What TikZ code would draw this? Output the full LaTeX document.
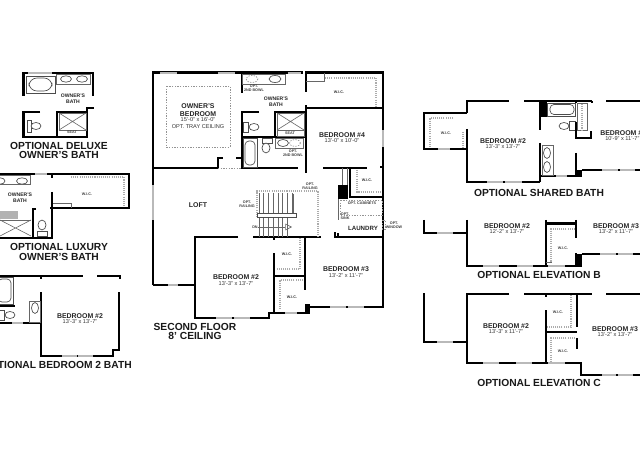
\documentclass[tikz,border=0pt]{standalone}
\usepackage{fontspec}
\setmainfont{Liberation Sans}
\usetikzlibrary{arrows.meta}
\tikzset{
  wall/.style={line width=1.9pt,black,line cap=butt,line join=miter},
  solid block/.style={fill=black,draw=none},
  win/.style={line width=1.5pt,gray!55!white},
  thin wall/.style={line width=0.45pt,black!60},
  shelf/.style={line width=1.2pt,gray!65,dash pattern=on 0.8pt off 0.8pt},
  opt/.style={line width=0.5pt,gray!85,dash pattern=on 1pt off 1pt},
  fix/.style={line width=0.5pt,black!70,fill=white},
  rmtitle/.style={font=\bfseries\fontsize{5.2}{6}\selectfont,black!85,inner sep=0pt,align=center},
  rmdim/.style={font=\fontsize{4.2}{5}\selectfont,black!80,inner sep=0pt,align=center},
  tiny note/.style={font=\bfseries\fontsize{2.8}{3.2}\selectfont,black!75,inner sep=0pt,align=center},
  heading/.style={font=\bfseries\fontsize{7.7}{7}\selectfont,black!90,inner sep=0pt,align=center},
}
\begin{document}
\begin{tikzpicture}[x=0.75pt,y=-0.75pt]
\useasboundingbox (0,0) rectangle (640,460);
\clip (0,0) rectangle (640,460);
\fill[white] (0,0) rectangle (640,460);

%% ===== Main second floor =====
\draw[wall] (153,285) -- (153,72.4) -- (303,72.4);
\draw[wall] (306,92) -- (306,72.4) -- (383,72.4) -- (383,307) -- (310,307);
\draw[wall] (153,285) -- (195,285);
\draw[wall] (238,237) -- (195,237) -- (195,318) -- (269,318) -- (269,313) -- (310,313);
\draw[wall] (253,237) -- (321,237);
\draw[wall] (335,232) -- (335,237) -- (383,237);
\fill[black] (305,304) rectangle (310,313);
\draw[wall] (274,253) -- (274,312);
\draw[wall] (274,276) -- (305,276);
\draw[wall] (305,237) -- (305,290);
\draw[wall] (274,237) -- (274,240);
% owner's suite
\draw[wall] (153,168) -- (218,168) -- (218,158) -- (223,158);
\draw[wall] (236,158) -- (242,158);
\draw[wall] (242,73) -- (242,93);
\draw[wall] (259,112) -- (242,112) -- (242,168) -- (298,168);
\draw[opt] (218,168) -- (242,168);
\draw[wall] (242,137) -- (306,137);
\draw[wall] (275,137) -- (275,112) -- (305,112);
\draw[wall] (306,173) -- (306,105);
\draw[wall] (306,108) -- (383,108);
\draw[wall] (323,168) -- (367,168);
\draw[wall] (380,167) -- (383,167);
\draw[wall] (350,168) -- (350,197) -- (383,197);
\fill[black] (338,185) rectangle (348,199);
\draw[thin wall] (342,168) -- (342,185) (347,168) -- (347,185);
\draw[thin wall] (306,81) -- (324,81) -- (324,73);
\draw[shelf] (325,78) -- (376,78) -- (376,108);
\draw[shelf] (357,170) -- (357,192) -- (380,192);
\draw[thin wall] (338,199) -- (338,220);
\draw[wall] (338,233) -- (338,237);
% windows
\draw[win] (160,73) -- (177,73) (218,73) -- (235,73) (288,73) -- (301,73);
\draw[win] (383,130) -- (383,147);
\draw[win] (153,185) -- (153,220);
\draw[win] (168,285) -- (178,285);
\draw[win] (216,318) -- (232,318) (234,318) -- (250,318);
\draw[win] (285,313) -- (297,313);
\draw[win] (330,307) -- (346,307) (348,307) -- (364,307);
% tray ceiling & cabinets
\draw[opt] (166,86) rectangle (230,147);
\draw[opt] (340,200) rectangle (382,215);
\draw[opt] (382,220) rectangle (385,229);
% stairs
\draw[shelf] (257,217) -- (257,191) -- (318,191) -- (318,237);
\foreach \sx in {259,263.7,268.4,273.1,277.8,282.5,287.2,291.9} {
  \draw[thin wall] (\sx,193) -- (\sx,213);
}
\foreach \sx in {259,263.7,268.4,273.1,277.8,282.5,287.2} {
  \draw[thin wall] (\sx,217) -- (\sx,237);
}
\draw[fix] (257,213) rectangle (296,217);
\draw[thin wall] (293,194) -- (293,213);
\node[tiny note,anchor=west] (dnlabel) at (252,227) {DN};
\coordinate (dnend) at (292,227);
\draw[thin wall,-{Triangle[open,length=5pt,width=5pt]}] (dnlabel) -- (dnend);
% closets
\draw[shelf] (300,238) -- (300,269) -- (276,269);
\draw[shelf] (303,280) -- (280,280) -- (280,310);
\node[rmdim,font=\bfseries\fontsize{2.8}{3.2}\selectfont] at (287,254) {W.I.C.};
\node[rmdim,font=\bfseries\fontsize{2.8}{3.2}\selectfont] at (292,297) {W.I.C.};
\node[rmdim,font=\bfseries\fontsize{2.8}{3.2}\selectfont] at (339,92) {W.I.C.};
\node[rmdim,font=\bfseries\fontsize{2.8}{3.2}\selectfont] at (367,180) {W.I.C.};
% bath fixtures
\draw[thin wall] (242,74) rectangle (285,84);
\draw[opt] (252,79) ellipse [x radius=6,y radius=3.5];
\draw[fix] (275,79) ellipse [x radius=6,y radius=3.5];
\draw[fix] (243,122) rectangle (248,132);
\draw[fix] (254,127) ellipse [x radius=5,y radius=3.5];
\draw[thin wall] (277,113) rectangle (304,130);
\draw[thin wall] (277,113) -- (304,130) (277,130) -- (304,113);
\draw[thin wall] (277,130) rectangle (304,136);
\draw[fix] (243,138) rectangle (257,167);
\draw[fix,rounded corners=3pt] (245,141) rectangle (255,165);
\draw[fix] (262,138) rectangle (272,143);
\draw[fix] (266,148) ellipse [x radius=4,y radius=5];
\draw[thin wall] (275,138) rectangle (303,148);
\draw[fix] (283,143) ellipse [x radius=5.5,y radius=3.5];
\draw[opt] (295,143) ellipse [x radius=5.5,y radius=3.5];
% labels
\node[rmtitle] at (198,110.5) {OWNER'S\\BEDROOM};
\node[rmdim] at (198,123) {15'-0" x 16'-0"\\OPT. TRAY CEILING};
\node[font=\bfseries\fontsize{3.8}{4.6}\selectfont,black!85,inner sep=0pt,align=center] at (276,102) {OWNER'S\\BATH};
\node[tiny note] at (254,88) {OPT.\\2ND BOWL};
\node[tiny note] at (293,153) {OPT.\\2ND BOWL};
\node[tiny note] at (290,133) {SEAT};
\node[rmtitle] at (342,135) {BEDROOM \#4};
\node[rmdim] at (342,141) {13'-0" x 10'-0"};
\node[rmtitle] at (198,205) {LOFT};
\node[tiny note] at (310,186.5) {OPT.\\RAILING};
\node[tiny note] at (247,204) {OPT.\\RAILING};
\node[tiny note] at (345,216) {OPT.\\SINK};
\node[tiny note] at (362,203) {OPT. CABINETS};
\node[rmtitle] at (236,277) {BEDROOM \#2};
\node[rmdim] at (236,283.5) {13'-3" x 13'-7"};
\node[rmtitle] at (346,269) {BEDROOM \#3};
\node[rmdim] at (346,275.5) {13'-2" x 11'-7"};
\node[font=\bfseries\fontsize{4.6}{5}\selectfont,black!85,inner sep=0pt] at (363,228) {LAUNDRY};
\node[tiny note] at (394,225) {OPT.\\WINDOW};
\node[heading] at (195,331.5) {SECOND FLOOR\\8' CEILING};

%% ===== Optional deluxe owner's bath =====
\draw[wall] (23.5,96) -- (23.5,73) -- (93,73) -- (93,96);
\draw[win] (28,73) -- (52,73);
\draw[fix] (26,76) rectangle (55,93);
\draw[fix,rounded corners=6pt] (29,78) rectangle (52,91);
\draw[thin wall] (56,74) rectangle (90,84);
\draw[fix] (66,79) ellipse [x radius=5.5,y radius=3.2];
\draw[fix] (82,79) ellipse [x radius=5.5,y radius=3.2];
\draw[wall] (40,112) -- (23.5,112) -- (23.5,137) -- (87,137) -- (87,108) -- (94,108);
\draw[wall] (57,137) -- (57,112) -- (87,112);
\draw[thin wall] (59,113) rectangle (86,130);
\draw[thin wall] (59,113) -- (86,130) (59,130) -- (86,113);
\draw[fix] (27,120) rectangle (31,132);
\draw[fix] (36,126) ellipse [x radius=5,y radius=3.5];
\node[font=\bfseries\fontsize{3.8}{4.6}\selectfont,black!85,inner sep=0pt,align=center] at (73,98.5) {OWNER'S\\BATH};
\node[tiny note] at (72,132.5) {SEAT};
\node[heading] at (59,150.5) {OPTIONAL DELUXE\\OWNER'S BATH};

%% ===== Optional luxury owner's bath =====
\draw[wall] (0,174) -- (129,174) -- (129,208) -- (50,208);
\draw[win] (35,174) -- (47,174);
\draw[wall] (52,174) -- (52,178);
\draw[wall] (52,192) -- (52,238) -- (0,238);
\draw[wall] (36,209) -- (33,209) -- (33,238);
\draw[thin wall] (-2,175) rectangle (30,184);
\draw[fix] (0,181) ellipse [x radius=5,y radius=3.2];
\draw[fix] (22,181) ellipse [x radius=5.5,y radius=3.2];
\draw[thin wall] (53,203) -- (71,203) -- (71,208);
\draw[shelf] (71,177) -- (124,177) -- (124,206);
\fill[gray!60] (0,211) rectangle (18,219);
\draw[thin wall] (0,220) -- (31,220);
\draw[thin wall] (0,220) -- (31,236) (0,236) -- (31,220);
\draw[fix] (37,231) rectangle (47,236);
\draw[fix] (42,225) ellipse [x radius=4,y radius=5];
\node[font=\bfseries\fontsize{3.8}{4.6}\selectfont,black!85,inner sep=0pt,align=center] at (20,198) {OWNER'S\\BATH};
\node[tiny note] at (87,194) {W.I.C.};
\node[heading] at (59,252) {OPTIONAL LUXURY\\OWNER'S BATH};

%% ===== Optional bedroom 2 bath =====
\draw[wall] (0,276) -- (83,276);
\draw[wall] (97,276) -- (120,276) -- (120,279);
\draw[wall] (41,276) -- (41,279);
\draw[wall] (41,292) -- (41,356) -- (113,356) -- (113,350) -- (119,350) -- (119,292);
\draw[win] (62,356) -- (77,356) (78,356) -- (93,356);
\draw[wall] (0,323) -- (41,323);
\draw[win] (12,323) -- (23,323);
\draw[wall] (0,306) -- (15,306);
\draw[fix] (-2,277) rectangle (13,304);
\draw[fix,rounded corners=3pt] (-2,279) rectangle (11,302);
\draw[fix] (-2,310) rectangle (4,320);
\draw[fix] (10,315) ellipse [x radius=5,y radius=3.5];
\draw[thin wall] (29,301) rectangle (40,322);
\draw[fix] (35,308) ellipse [x radius=3.5,y radius=5.5];
\node[rmtitle] at (80,316) {BEDROOM \#2};
\node[rmdim] at (80,322) {13'-3" x 13'-7"};
\node[heading,anchor=east] at (132,365) {OPTIONAL BEDROOM 2 BATH};

%% ===== Optional shared bath =====
\draw[wall] (467,113) -- (467,101) -- (509,101);
\draw[wall] (524,101) -- (592,101);
\draw[wall] (606,101) -- (640,101);
\draw[wall] (467,113) -- (424,113) -- (424,149) -- (467,149);
\draw[wall] (467,129) -- (467,182) -- (540,182);
\draw[wall] (592,101) -- (592,103);
\draw[win] (438,149) -- (450,149) (487,182) -- (503,182) (505,182) -- (522,182);
\fill[black] (540,101) rectangle (547,117);
\draw[wall] (540,101) -- (540,130);
\draw[wall] (540,143) -- (540,182);
\draw[wall] (540,176) -- (577,176);
\draw[win] (556,176) -- (567,176);
\draw[fix] (547,103) rectangle (575,116);
\draw[fix,rounded corners=3pt] (550,104.5) rectangle (574,114.5);
\draw[fix] (569,121) rectangle (575,130);
\draw[fix] (564,126) ellipse [x radius=5,y radius=3.5];
\draw[thin wall] (542,145) rectangle (553,175);
\draw[fix] (547,153) ellipse [x radius=3.5,y radius=5.5];
\draw[fix] (547,167) ellipse [x radius=3.5,y radius=5.5];
\draw[thin wall] (577,103) rectangle (587,130);
\draw[shelf] (582,104) -- (582,130);
\draw[wall] (576,101) -- (576,103);
\draw[wall] (576,122) -- (576,138) -- (591,138) -- (591,131);
\draw[wall] (576,153) -- (576,176);
\fill[black] (576,170) rectangle (582,177);
\draw[wall] (582,170) -- (640,170);
\draw[win] (602,170) -- (618,170) (620,170) -- (635,170);
\draw[shelf] (453,118) -- (430,118) -- (430,147);
\draw[shelf] (463,132) -- (463,147);
\node[tiny note] at (446,133) {W.I.C.};
\node[rmtitle] at (503,141) {BEDROOM \#2};
\node[rmdim] at (503,147) {13'-3" x 13'-7"};
\node[rmtitle,anchor=west] at (600,133) {BEDROOM \#4};
\node[rmdim,anchor=west] at (605,138.5) {10'-9" x 11'-7"};
\node[heading] at (539,193) {OPTIONAL SHARED BATH};

%% ===== Optional elevation B =====
\draw[wall] (424,220) -- (424,233) -- (467,233);
\draw[win] (437,233) -- (453,233);
\draw[wall] (467,220) -- (467,266) -- (578,266);
\draw[win] (483,266) -- (499,266) (517,266) -- (533,266) (548,266) -- (565,266);
\draw[wall] (546,220) -- (546,266);
\draw[wall] (546,223.5) -- (577,223.5);
\draw[wall] (576,220) -- (576,238);
\draw[wall] (576,253) -- (576,266);
\fill[black] (576,254) rectangle (582,267);
\draw[wall] (582,254) -- (640,254);
\draw[win] (600,254) -- (616,254) (618,254) -- (633,254);
\draw[shelf] (575,229) -- (551,229) -- (551,262);
\draw[thin wall] (546,262) -- (552,262);
\node[tiny note] at (563,248) {W.I.C.};
\node[rmtitle] at (507,226) {BEDROOM \#2};
\node[rmdim] at (507,232) {12'-2" x 13'-7"};
\node[rmtitle] at (616,226) {BEDROOM \#3};
\node[rmdim] at (616,232) {13'-2" x 11'-7"};
\node[heading] at (539,275) {OPTIONAL ELEVATION B};

%% ===== Optional elevation C =====
\draw[wall] (424,293) -- (424,342) -- (467,342);
\draw[win] (437,342) -- (453,342);
\draw[wall] (509,294) -- (467,294) -- (467,363) -- (581,363) -- (581,375) -- (640,375);
\draw[wall] (524,294) -- (592,294);
\draw[wall] (606,294) -- (640,294);
\draw[win] (483,363) -- (499,363) (516,363) -- (532,363) (548,363) -- (565,363);
\draw[win] (602,375) -- (616,375) (618,375) -- (633,375);
\draw[wall] (546,294) -- (546,297);
\draw[wall] (546,310) -- (546,363);
\draw[wall] (546,332) -- (577,332);
\draw[wall] (577,294) -- (577,327);
\draw[wall] (577,338) -- (577,349);
\draw[shelf] (571,295) -- (571,327) -- (547,327);
\draw[shelf] (575,338) -- (551,338) -- (551,361);
\node[tiny note] at (558,312) {W.I.C.};
\node[tiny note] at (563,351) {W.I.C.};
\node[rmtitle] at (506,326) {BEDROOM \#2};
\node[rmdim] at (506,332) {13'-3" x 11'-7"};
\node[rmtitle] at (615,329) {BEDROOM \#3};
\node[rmdim] at (615,335) {13'-2" x 13'-7"};
\node[heading] at (539,383) {OPTIONAL ELEVATION C};
\end{tikzpicture}
\end{document}
